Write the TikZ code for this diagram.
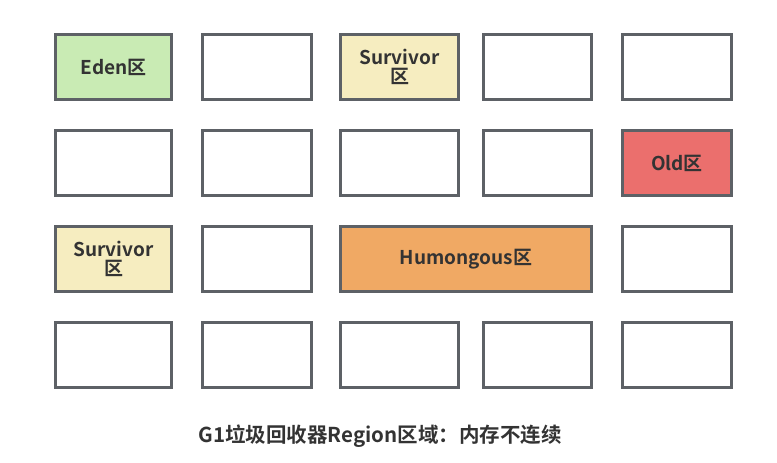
\documentclass[tikz,border=0pt]{standalone}
\usepackage{fontspec}
\newfontfamily\cjk{Noto Sans CJK SC}[BoldFont={* Bold}]
\definecolor{edge}{HTML}{5D6166}
\definecolor{txt}{HTML}{333333}
\definecolor{eden}{HTML}{C9EBB4}
\definecolor{surv}{HTML}{F6EDC0}
\definecolor{oldc}{HTML}{EB6F6D}
\definecolor{huge}{HTML}{F0A964}
\tikzset{
  region/.style={draw=edge, line width=2.6pt, fill=white, rectangle, inner sep=0pt,
    font=\cjk\bfseries\fontsize{19}{21}\selectfont, text=txt, align=center},
}
\begin{document}
\begin{tikzpicture}[x=1pt,y=-1pt]
\useasboundingbox (0,0) rectangle (777,463);
% columns: 54-173, 201-313, 339-460, 482-593, 621-733
% rows: 33-101, 129-197, 225-293, 321-389
\newcommand{\reg}[7]{% name, x1, y1, x2, y2, fill, text
  \node[region, fill=#6, minimum width={#4-#2-2.6}, minimum height={#5-#3-2.6}]
    (#1) at ({(#2+#4)/2},{(#3+#5)/2}) {#7};}
% row 1
\reg{r11}{54}{33}{173}{101}{eden}{Eden区}
\reg{r12}{201}{33}{313}{101}{white}{}
\reg{r13}{339}{33}{460}{101}{surv}{Survivor\\[-2pt]区}
\reg{r14}{482}{33}{593}{101}{white}{}
\reg{r15}{621}{33}{733}{101}{white}{}
% row 2
\reg{r21}{54}{129}{173}{197}{white}{}
\reg{r22}{201}{129}{313}{197}{white}{}
\reg{r23}{339}{129}{460}{197}{white}{}
\reg{r24}{482}{129}{593}{197}{white}{}
\reg{r25}{621}{129}{733}{197}{oldc}{Old区}
% row 3
\reg{r31}{54}{225}{173}{293}{surv}{Survivor\\[-2pt]区}
\reg{r32}{201}{225}{313}{293}{white}{}
\reg{r33}{339}{225}{593}{293}{huge}{Humongous区}
\reg{r35}{621}{225}{733}{293}{white}{}
% row 4
\reg{r41}{54}{321}{173}{389}{white}{}
\reg{r42}{201}{321}{313}{389}{white}{}
\reg{r43}{339}{321}{460}{389}{white}{}
\reg{r44}{482}{321}{593}{389}{white}{}
\reg{r45}{621}{321}{733}{389}{white}{}
\node[font=\cjk\bfseries\fontsize{20.5}{23}\selectfont, text=txt] (cap) at (380,436)
  {G1垃圾回收器Region区域：内存不连续};
\end{tikzpicture}
\end{document}
